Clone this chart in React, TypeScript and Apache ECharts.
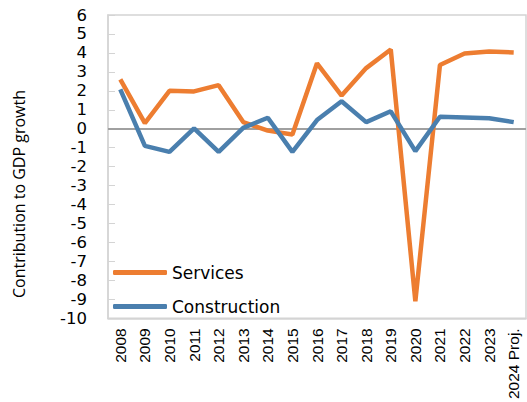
import React, { useEffect, useRef } from "react";
import * as echarts from "echarts";

const categories = ["2008","2009","2010","2011","2012","2013","2014","2015","2016","2017","2018","2019","2020","2021","2022","2023","2024 Proj."];
const services = [2.6, 0.3, 2.0, 1.97, 2.3, 0.35, -0.1, -0.3, 3.45, 1.75, 3.2, 4.18, -9.1, 3.36, 3.97, 4.08, 4.02];
const construction = [2.08, -0.9, -1.22, 0.02, -1.22, 0.05, 0.58, -1.22, 0.46, 1.45, 0.35, 0.92, -1.18, 0.63, 0.6, 0.55, 0.35];
const seriesNames = ["Services", "Construction"];
const yAxisTitle = "Contribution to GDP growth";

export default function App() {
  const ref = useRef<HTMLDivElement>(null);
  useEffect(() => {
    if (!ref.current) return;
    const chart = echarts.init(ref.current, null, { renderer: "svg" });
    chart.setOption({
      animation: false,
      backgroundColor: "#ffffff",
      grid: {
        left: 108, top: 15, right: 1, bottom: 79, containLabel: false,
        show: true, borderColor: "#d4d4d4", borderWidth: 1.5,
      },
      graphic: [
        {
          type: "text", x: 19, y: 194, rotation: Math.PI / 2,
          style: {
            text: yAxisTitle, fontFamily: "Open Sans", fontSize: 16, fill: "#000",
            textAlign: "center", textVerticalAlign: "middle",
          },
        },
      ],
      legend: {
        data: seriesNames,
        orient: "vertical", left: 108, top: 259,
        icon: "roundRect", itemWidth: 54, itemHeight: 5, itemGap: 17,
        textStyle: { fontFamily: "DejaVu Sans", fontSize: 17, color: "#000" },
      },
      xAxis: {
        type: "category", data: categories, boundaryGap: true,
        axisLine: { show: true, onZero: false, lineStyle: { color: "#d4d4d4", width: 1.5 } },
        axisTick: { show: false },
        axisLabel: {
          rotate: 90, interval: 0, margin: 10,
          fontFamily: "Liberation Sans", fontSize: 15.5, color: "#000",
        },
      },
      yAxis: {
        type: "value", min: -10, max: 6, interval: 1,
        axisLine: { show: true, lineStyle: { color: "#d4d4d4", width: 1.5 } },
        axisTick: { show: true, inside: true, length: 7, lineStyle: { color: "#d4d4d4" } },
        splitLine: { show: false },
        axisLabel: { margin: 21, fontFamily: "DejaVu Sans", fontSize: 16.5, color: "#000" },
      },
      series: [
        {
          name: seriesNames[0], type: "line", data: services, symbol: "none", z: 3,
          lineStyle: { color: "#ed7d31", width: 4.5 }, itemStyle: { color: "#ed7d31" },
          markLine: {
            z: 1, silent: true, symbol: "none", label: { show: false },
            lineStyle: { color: "#a0a0a0", width: 2, type: "solid" },
            data: [{ yAxis: 0 }],
          },
        },
        {
          name: seriesNames[1], type: "line", data: construction, symbol: "none", z: 4,
          lineStyle: { color: "#4a7fae", width: 4.5 }, itemStyle: { color: "#4a7fae" },
        },
      ],
    });
    return () => chart.dispose();
  }, []);
  return <div ref={ref} style={{ position: "fixed", left: 0, top: 0, width: 527, height: 402 }} />;
}
